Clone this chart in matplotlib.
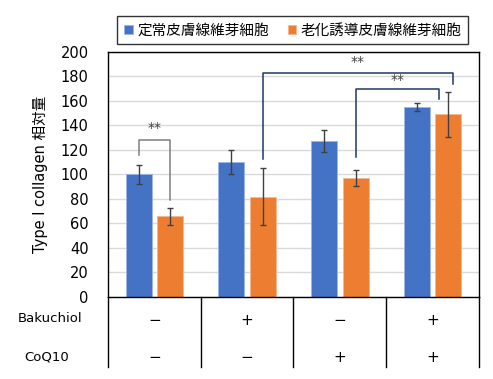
import numpy as np
import matplotlib.pyplot as plt
from matplotlib.transforms import blended_transform_factory

plt.rcParams['font.family'] = ['DejaVu Sans', 'Noto Sans CJK JP']

# データ
series_names = ['定常皮膚線維芽細胞', '老化誘導皮膚線維芽細胞']
normal_vals = [100, 110, 127, 155]
normal_err = [8, 10, 9, 3.5]
aged_vals = [66, 82, 97, 149]
aged_err = [7, 23, 6.5, 18]
bakuchiol = ['−', '+', '−', '+']
coq10 = ['−', '−', '+', '+']
row_labels = ['Bakuchiol', 'CoQ10']

fig = plt.figure(figsize=(4.93, 3.79), dpi=100)
ax = fig.add_axes([0.219, 0.2164, 0.7526, 0.6464])

x = np.arange(len(normal_vals))
w = 0.28
off = 0.17
ax.bar(x - off, normal_vals, w, color='#4472C4', edgecolor='#9DB5E3', linewidth=0.6,
       label=series_names[0], zorder=2)
ax.bar(x + off, aged_vals, w, color='#ED7D31', edgecolor='#F6B98F', linewidth=0.6,
       label=series_names[1], zorder=2)
ax.errorbar(x - off, normal_vals, yerr=normal_err, fmt='none', ecolor='#404040',
            elinewidth=1, capsize=2.5, zorder=3)
ax.errorbar(x + off, aged_vals, yerr=aged_err, fmt='none', ecolor='#404040',
            elinewidth=1, capsize=2.5, zorder=3)

ax.set_xlim(-0.5, 3.5)
ax.set_ylim(0, 200)
ax.set_yticks(range(0, 201, 20))
ax.tick_params(axis='y', length=0, labelsize=10.5, pad=14)
ax.set_xticks([])
ax.grid(axis='y', color='#D9D9D9', linewidth=1, zorder=0)
for s in ax.spines.values():
    s.set_color('black')
    s.set_linewidth(1)
ax.set_ylabel('Type I collagen 相対量', fontsize=10.5, labelpad=9)


def bracket(x1, x2, y1, y2, top, color, star_y):
    ax.plot([x1, x1, x2, x2], [y1, top, top, y2], color=color, lw=1.1,
            clip_on=False, zorder=4)
    ax.text((x1 + x2) / 2, star_y, '**', ha='center', va='center', fontsize=10,
            color='#404040')


bracket(0 - off, 0 + off, 116, 79, 128, '#7F7F7F', 138)
bracket(1 + off, 3 + off + 0.05, 113, 174, 183, '#203864', 192)
bracket(2 + off, 3 + off - 0.1, 114, 162, 170, '#203864', 177)

# 表部分
tr = blended_transform_factory(ax.transData, ax.transAxes)
for xv in np.arange(-0.5, 3.6, 1.0):
    ax.plot([xv, xv], [0, -0.286], color='black', lw=1, transform=tr, clip_on=False)
for i in range(len(x)):
    ax.text(x[i], -0.095, bakuchiol[i], ha='center', va='center', fontsize=11, transform=tr)
    ax.text(x[i], -0.245, coq10[i], ha='center', va='center', fontsize=11, transform=tr)
ax.text(-1.125, -0.088, row_labels[0], ha='center', va='center', fontsize=9.5, transform=tr)
ax.text(-1.16, -0.245, row_labels[1], ha='center', va='center', fontsize=9.5, transform=tr)

leg = fig.legend(loc='center', bbox_to_anchor=(0.594, 0.921), ncol=2, fontsize=10.5,
                 frameon=True, fancybox=False, edgecolor='black', handlelength=0.6,
                 handleheight=0.6, handletextpad=0.3, columnspacing=1.3,
                 borderpad=0.45)
leg.get_frame().set_linewidth(1)

fig.savefig('out.png', dpi=100)
